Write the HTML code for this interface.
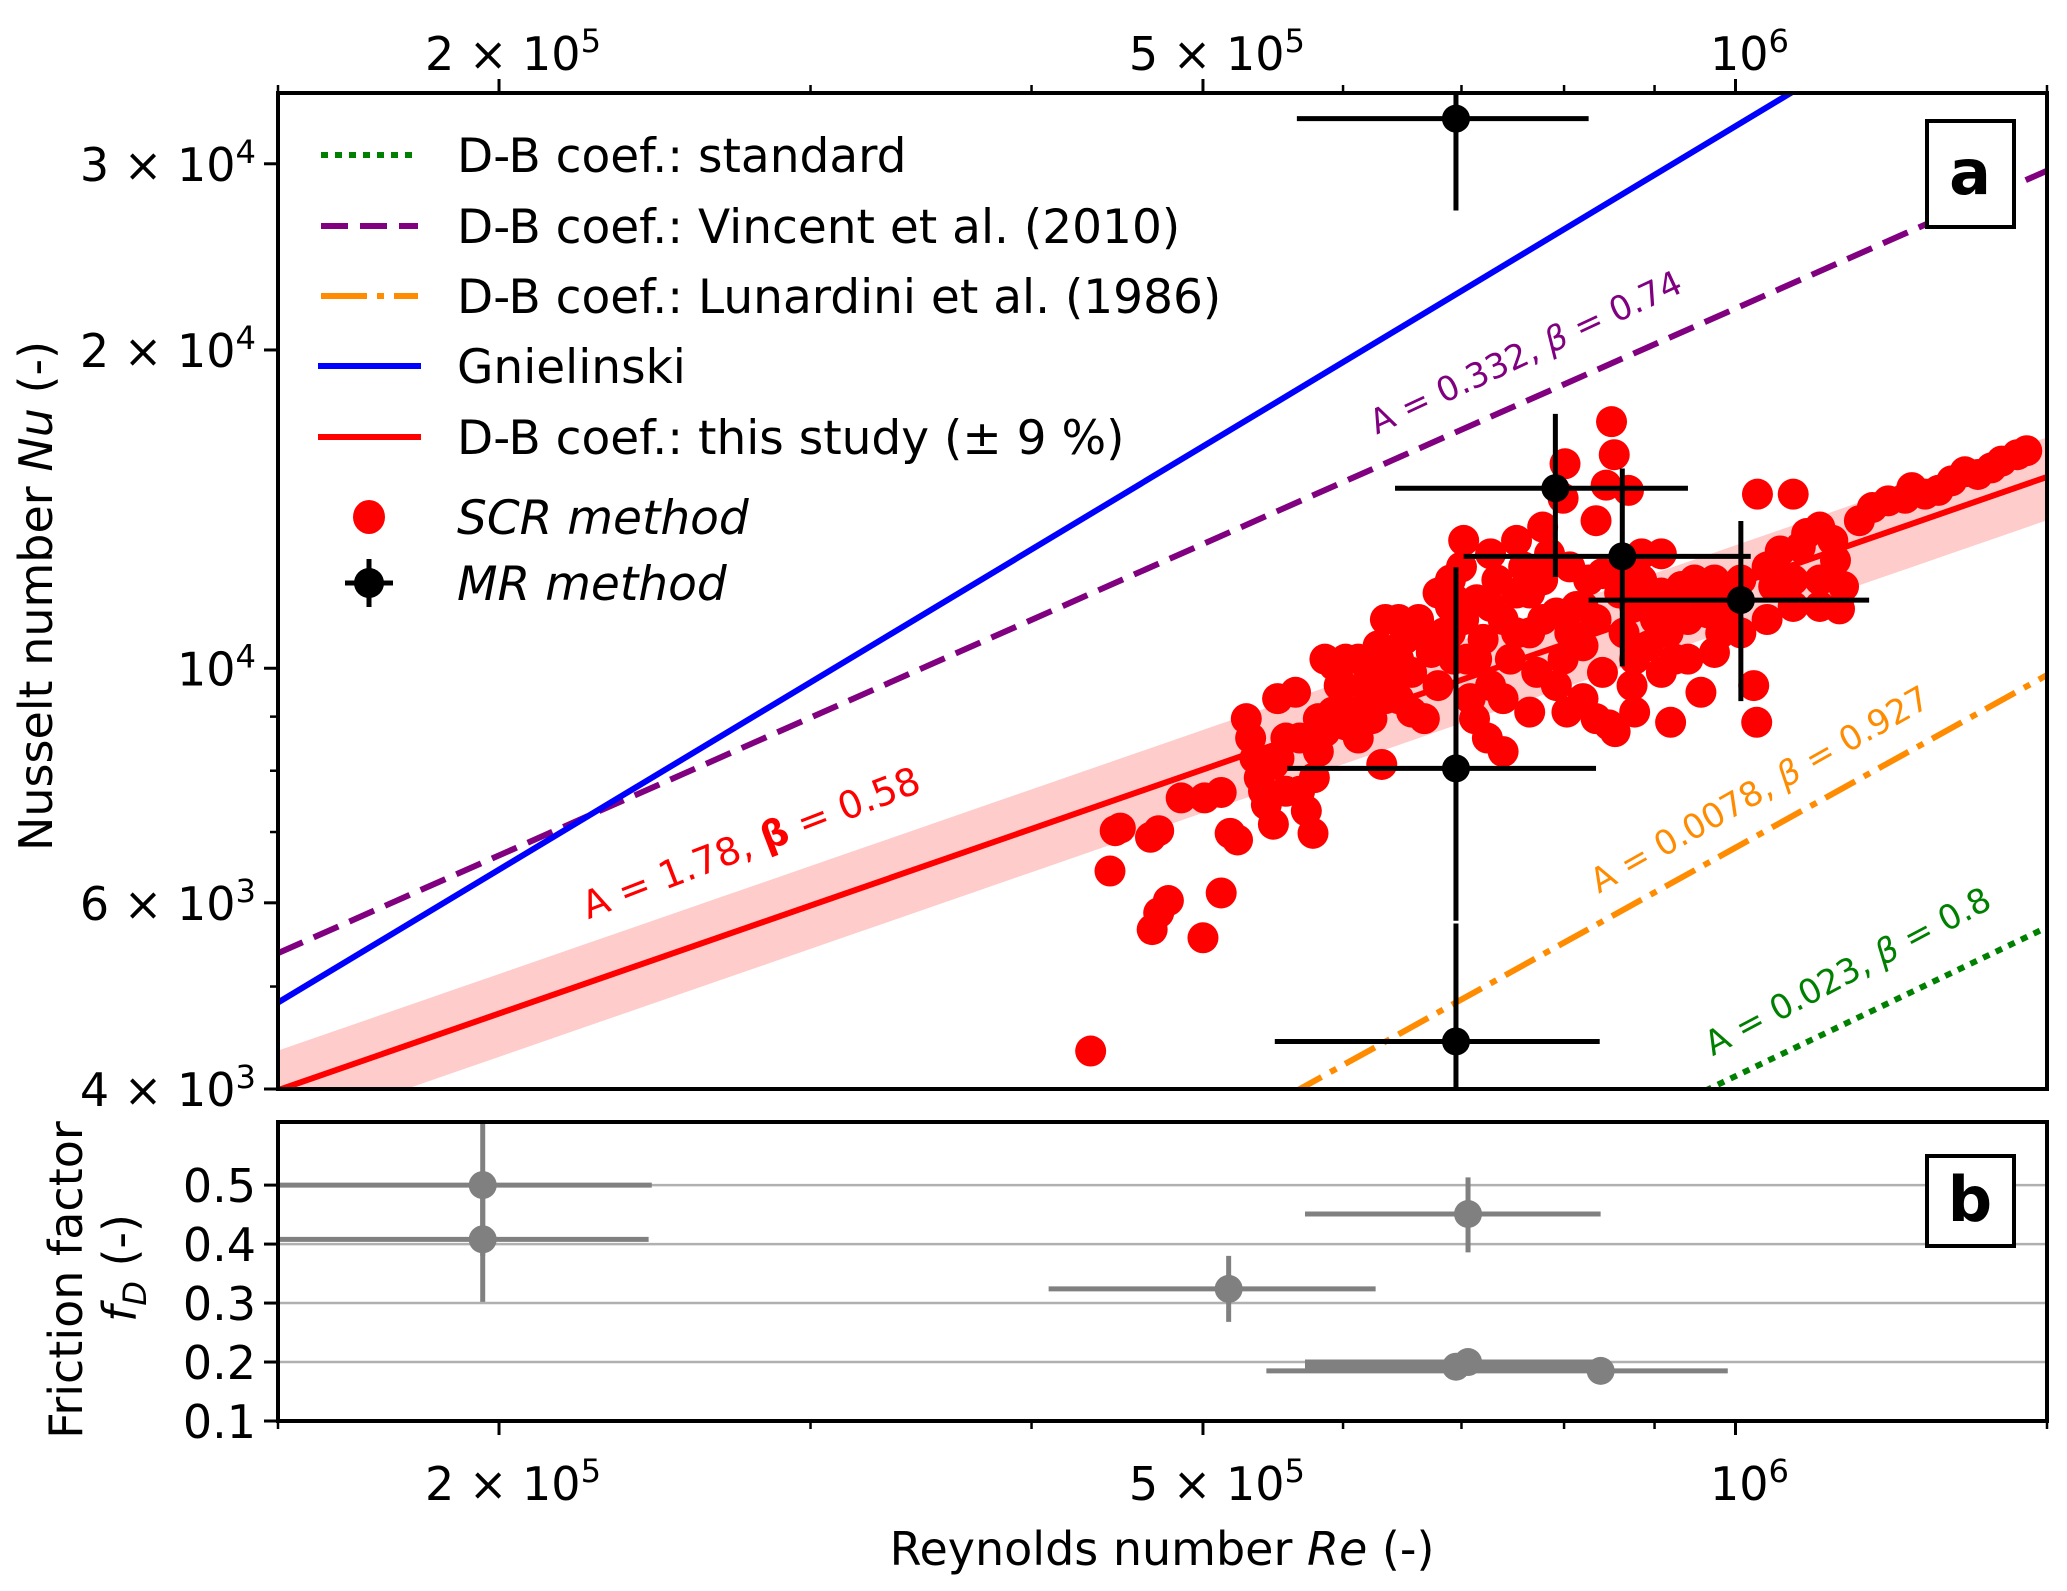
<!DOCTYPE html>
<html><head><meta charset="utf-8">
<style>
html,body{margin:0;padding:0;background:#fff;width:2067px;height:1591px;overflow:hidden;position:relative;}
svg{display:block;font-family:"DejaVu Sans","Liberation Sans",sans-serif;}
</style></head>
<body>
<svg id="fig" style="position:absolute;left:0;top:0" width="2067" height="1591" viewBox="0 0 2067 1591" xmlns="http://www.w3.org/2000/svg">
<defs>
<clipPath id="clipA"><rect x="278" y="93" width="1769" height="996"/></clipPath>
<clipPath id="clipB"><rect x="278" y="1122" width="1769" height="299"/></clipPath>
</defs>
<rect x="0" y="0" width="2067" height="1591" fill="#fff"/>
<g id="gA" clip-path="url(#clipA)"></g>
<g id="gB" clip-path="url(#clipB)"></g>
<g id="axes"></g>
<g id="legend"></g>
</svg>
<script>
// ---------- data ----------
const lineNames = ["D-B coef.: standard","D-B coef.: Vincent et al. (2010)","D-B coef.: Lunardini et al. (1986)","Gnielinski","D-B coef.: this study (\u00b1 9 %)"];
const lineBetas = [0.8, 0.74, 0.927, 1.006, 0.58];
const lineNuAt1e6 = [4113, 21890, 6766, 32560, 11990];
const lineColors = ["#008000","#800080","#ff8c00","#0000ff","#ff0000"];
const lineDash = ["7,7","27,12","34,10,7,10","",""];
const bandPct = 9;

// SCR method points: Re (x1e5), Nu
const scrRe = [4.32,4.43,4.46,4.49,4.68,4.72,4.78,5.00,5.12,4.67,4.72,4.86,5.01,5.12,5.18,5.23,5.29,5.32,5.35,5.38,5.43,5.48,5.41,5.52,5.57,5.64,5.51,5.67,5.72,5.77,5.78,5.81,5.86,5.92,5.93,6.02,6.00,6.07,6.12,6.17,6.23,6.28,6.31,6.34,6.39,6.45,6.50,6.56,6.62,6.67,6.73,6.79,6.84,6.90,7.00,7.02,7.05,7.08,7.14,7.20,7.27,7.33,7.39,7.46,7.52,7.59,7.65,7.72,7.78,7.85,7.92,7.99,8.03,8.06,8.13,8.20,8.26,8.34,8.41,8.48,8.55,8.60,8.65,8.74,8.77,8.85,8.93,9.01,9.08,9.16,9.24,9.32,9.40,9.48,9.56,9.65,9.73,9.81,9.90,10.24,10.28,9.19,8.51,8.54,8.45,8.01,7.99,8.34,8.70,10.29,10.78,10.07,10.42,10.60,10.88,10.97,11.16,11.35,11.39,11.51,11.45,11.16,10.78,10.51,11.75,11.95,12.20,12.47,12.58,12.80,13.02,13.25,13.48,13.71,13.95,14.14,14.43,14.61,6.94,6.90,6.93,7.12,7.24,7.39,6.45,5.86,5.97,6.23,8.41,8.85,
7.02,7.27,7.52,7.78,7.39,7.65,7.92,8.20,8.34,8.77,9.08,9.40,9.73,10.07,10.42,10.78,11.16,7.52,7.78,8.06,7.27,6.79,6.67,6.56,6.45,6.23,6.02,5.81,5.67,6.12,6.34,7.14,8.93,9.24,9.56,9.90,8.65,9.08,7.65,8.20,6.90,8.77,5.57,5.48];
const scrNu = [4345,6430,7020,7060,5660,5870,6030,5560,6130,6920,7020,7540,7540,7630,6980,6880,8960,8590,8220,7880,7430,7120,7650,8220,8590,9490,9360,7650,7330,6980,7880,8340,8710,9090,10060,10200,9630,9090,8590,9630,10060,10500,8110,9360,9770,10200,10650,9910,11120,8960,10350,9630,10800,11440,12470,11120,10200,9360,11610,10650,9630,12120,11120,10200,11780,12470,10800,9910,12120,12830,11280,10200,9090,12470,11440,10500,12120,11120,9910,8840,8710,11780,10800,9630,11440,12120,10500,11120,11780,10800,10200,11950,11120,12120,9490,11280,12120,10800,11780,9630,8890,8890,17110,15920,14900,15610,14480,13790,14730,14610,14610,12120,12470,12910,13020,13410,13600,13210,12650,11950,11380,12120,12120,11950,13790,14190,14400,14480,14820,14610,14730,15040,15340,15250,15470,15700,15920,16060,11610,12120,10200,8960,8590,8340,11120,10200,9630,8960,12290,12830,
13210,12830,13210,13600,9360,9090,9630,9360,8960,10200,9910,10200,10350,10800,11120,11440,11440,10800,11120,10800,11440,11780,10800,9090,9360,9490,8840,8960,8590,10200,11120,10200,11780,11440,11780,11120,12470,12830,11780,11440,10800,9090,7650,8110];

// MR method points (x1e5 for Re)
const mrRe   = [6.95, 7.91, 8.63, 10.07, 6.95, 6.95];
const mrReLo = [5.65, 6.42, 7.02, 8.26, 5.58, 5.49];
const mrReHi = [8.26, 9.40, 10.2, 11.9, 8.34, 8.38];
const mrNu   = [33100, 14800, 12760, 11600, 8040, 4436];
const mrNuLo = [27100, 12200, 10040, 9310, 5770, 3000];
const mrNuHi = [40000, 17400, 15450, 13780, 12460, 5735];

// Friction factor points
const ffRe   = [1.958, 1.958, 7.06, 5.17, 6.95, 7.06, 8.39];
const ffReLo = [1.40, 1.40, 5.71, 4.09, 5.71, 5.71, 5.43];
const ffReHi = [2.44, 2.43, 8.39, 6.26, 8.39, 8.39, 9.90];
const ffF    = [0.500, 0.408, 0.451, 0.324, 0.192, 0.200, 0.185];
const ffFLo  = [0.38, 0.302, 0.386, 0.268, 0.18, 0.19, 0.175];
const ffFHi  = [0.70, 0.514, 0.513, 0.38, 0.205, 0.21, 0.195];

const xTickVals = [2, 5, 10];
const xTickLabels = [["2 \u00d7 10","5"],["5 \u00d7 10","5"],["10","6"]];
const xMinorVals = [1.5,3,4,6,7,8,9,15];
const yTickVals = [4000, 6000, 10000, 20000, 30000];
const yTickLabels = [["4 \u00d7 10","3"],["6 \u00d7 10","3"],["10","4"],["2 \u00d7 10","4"],["3 \u00d7 10","4"]];
const yMinorVals = [5000,7000,8000,9000];
const fTickVals = [0.1,0.2,0.3,0.4,0.5];
const fTickLabels = ["0.1","0.2","0.3","0.4","0.5"];
const fGridVals = [0.2,0.3,0.4,0.5];

// ---------- axes functions ----------
const L=278, R=2047, AT=93, AB=1089, BT=1122, BB=1421;
const xMin=Math.log10(1.5e5), xMax=Math.log10(1.5e6);
const yMin=Math.log10(4000), yMax=Math.log10(35000);
const fMin=0.1, fMax=0.607;
function X(re){return L+(Math.log10(re)-xMin)/(xMax-xMin)*(R-L);}
function Y(nu){return AB-(Math.log10(nu)-yMin)/(yMax-yMin)*(AB-AT);}
function YF(f){return BB-(f-fMin)/(fMax-fMin)*(BB-BT);}

const NS="http://www.w3.org/2000/svg";
function mk(tag,attrs,parent){const e=document.createElementNS(NS,tag);for(const k in attrs)e.setAttribute(k,attrs[k]);parent.appendChild(e);return e;}
const gA=document.getElementById('gA'), gB=document.getElementById('gB'), axes=document.getElementById('axes');

// band
{
  const i=4, n=40; let pts=[], pts2=[];
  for(let k=0;k<=n;k++){const re=Math.pow(10,xMin+(xMax-xMin)*k/n);const nu=lineNuAt1e6[i]*Math.pow(re/1e6,lineBetas[i]);
    pts.push(X(re)+','+Y(nu*(1+bandPct/100)));pts2.unshift(X(re)+','+Y(nu*(1-bandPct/100)));}
  const b=mk('polygon',{points:pts.concat(pts2).join(' '),fill:'#ffcccc',stroke:'none'},gA);
  
  
}
// lines
const lineKeys=['standard-line','vincent-line','lunardini-line','gnielinski-line','this-study-line'];
for(let i=0;i<lineNames.length;i++){
  const r0=1.5e5, r1=1.5e6;
  const n0=lineNuAt1e6[i]*Math.pow(r0/1e6,lineBetas[i]), n1=lineNuAt1e6[i]*Math.pow(r1/1e6,lineBetas[i]);
  const a={x1:X(r0),y1:Y(n0),x2:X(r1),y2:Y(n1),stroke:lineColors[i],'stroke-width':6,fill:'none'};
  if(lineDash[i])a['stroke-dasharray']=lineDash[i];
  const ln=mk('line',a,gA);
  
  
}
// SCR points
for(let i=0;i<scrRe.length;i++){
  const c=mk('circle',{cx:X(scrRe[i]*1e5),cy:Y(scrNu[i]),r:15.5,fill:'#ff0000'},gA);
  
  
}
// MR error bars
for(let i=0;i<mrRe.length;i++){
  const g=mk('g',{},gA);
  
  
  const x=X(mrRe[i]*1e5), y=Y(mrNu[i]);
  mk('line',{x1:X(mrReLo[i]*1e5),x2:X(mrReHi[i]*1e5),y1:y,y2:y,stroke:'#000','stroke-width':5},g);
  mk('line',{x1:x,x2:x,y1:Y(mrNuLo[i]),y2:Y(mrNuHi[i]),stroke:'#000','stroke-width':5},g);
  mk('circle',{cx:x,cy:y,r:14,fill:'#000'},g);
}
// friction grid + points
for(const v of fGridVals){
  const gl=mk('line',{x1:L,x2:R,y1:YF(v),y2:YF(v),stroke:'#b0b0b0','stroke-width':2.5},gB);
  
  
}
for(let i=0;i<ffRe.length;i++){
  const g=mk('g',{},gB);
  
  
  const x=X(ffRe[i]*1e5), y=YF(ffF[i]);
  mk('line',{x1:X(ffReLo[i]*1e5),x2:X(ffReHi[i]*1e5),y1:y,y2:y,stroke:'#808080','stroke-width':5},g);
  mk('line',{x1:x,x2:x,y1:YF(ffFLo[i]),y2:YF(ffFHi[i]),stroke:'#808080','stroke-width':5},g);
  mk('circle',{cx:x,cy:y,r:14,fill:'#808080'},g);
}
// annotations
const ann=[
 {t:'A = 1.78, ',b:'\u03b2',t2:' = 0.58',x:751,y:843,a:-21,c:'#ff0000',fs:38,bold:true,n:'this-study-annotation'},
 {t:'A = 0.332, ',b:'\u03b2',t2:' = 0.74',x:1526,y:353,a:-25,c:'#800080',fs:34,n:'vincent-annotation'},
 {t:'A = 0.0078, ',b:'\u03b2',t2:' = 0.927',x:1760,y:790,a:-29.5,c:'#ff8c00',fs:34,n:'lunardini-annotation'},
 {t:'A = 0.023, ',b:'\u03b2',t2:' = 0.8',x:1848,y:972,a:-28,c:'#008000',fs:34,n:'standard-annotation'}];
for(const a of ann){
  const t=mk('text',{x:a.x,y:a.y,'text-anchor':'middle','dominant-baseline':'central','font-size':a.fs,fill:a.c,transform:`rotate(${a.a} ${a.x} ${a.y})`},gA);
  
  
  const s1=mk('tspan',{},t);s1.textContent=a.t;
  const s2=mk('tspan',{'font-style':a.bold?'normal':'italic','font-weight':a.bold?'bold':'normal'},t);s2.textContent=a.b;
  const s3=mk('tspan',{},t);s3.textContent=a.t2;
}
// spines
for(const [y0,y1,n] of [[AT,AB,'panel-a-frame'],[BT,BB,'panel-b-frame']]){
  const r=mk('rect',{x:L,y:y0,width:R-L,height:y1-y0,fill:'none',stroke:'#000','stroke-width':4},axes);
  
  
}
function supText(x,y,base,sup,anchor,fs,name){
  const t=mk('text',{x:x,y:y,'text-anchor':anchor,'font-size':fs,fill:'#000'},axes);
  
  
  const a=mk('tspan',{},t);a.textContent=base;
  const b=mk('tspan',{dy:-18,'font-size':fs*0.7},t);b.textContent=sup;
  return t;
}
for(let i=0;i<xTickVals.length;i++){
  const x=X(xTickVals[i]*1e5);
  mk('line',{x1:x,x2:x,y1:AT,y2:AT-14,stroke:'#000','stroke-width':3},axes);
  mk('line',{x1:x,x2:x,y1:BB,y2:BB+14,stroke:'#000','stroke-width':3},axes);
  supText(x+14,70,xTickLabels[i][0],xTickLabels[i][1],'middle',46,'top-x-tick-label');
  supText(x+14,1500,xTickLabels[i][0],xTickLabels[i][1],'middle',46,'bottom-x-tick-label');
}
for(const v of xMinorVals){
  const x=X(v*1e5);
  mk('line',{x1:x,x2:x,y1:AT,y2:AT-8,stroke:'#000','stroke-width':2.5},axes);
  mk('line',{x1:x,x2:x,y1:BB,y2:BB+8,stroke:'#000','stroke-width':2.5},axes);
}
for(let i=0;i<yTickVals.length;i++){
  const y=Y(yTickVals[i]);
  mk('line',{x1:L,x2:L-14,y1:y,y2:y,stroke:'#000','stroke-width':3},axes);
  supText(L-22,y+17,yTickLabels[i][0],yTickLabels[i][1],'end',46,'y-tick-label');
}
for(const v of yMinorVals){const y=Y(v);mk('line',{x1:L,x2:L-8,y1:y,y2:y,stroke:'#000','stroke-width':2.5},axes);}
for(let i=0;i<fTickVals.length;i++){
  const y=YF(fTickVals[i]);
  mk('line',{x1:L,x2:L-14,y1:y,y2:y,stroke:'#000','stroke-width':3},axes);
  const t=mk('text',{x:L-22,y:y+17,'text-anchor':'end','font-size':46,fill:'#000'},axes);
  
  
  t.textContent=fTickLabels[i];
}
</script>
<svg style="position:absolute;left:0;top:0" width="2067" height="1591">
<g font-family="DejaVu Sans, Liberation Sans, sans-serif" fill="#000">
<text x="1162" y="1565" font-size="46" text-anchor="middle">Reynolds number <tspan font-style="italic">Re</tspan> (-)</text>
<text transform="translate(52,596) rotate(-90)" font-size="46" text-anchor="middle">Nusselt number <tspan font-style="italic">Nu</tspan> (-)</text>
<text transform="translate(82,1280) rotate(-90)" font-size="46" text-anchor="middle">Friction factor</text>
<text transform="translate(136,1268) rotate(-90)" font-size="46" text-anchor="middle"><tspan font-style="italic">f</tspan><tspan font-style="italic" font-size="32" dy="10">D</tspan><tspan dy="-10"> (-)</tspan></text>
<rect x="1927" y="121" width="87" height="106" fill="#fff" stroke="#000" stroke-width="4"/>
<text x="1970" y="194" font-size="62" font-weight="bold" text-anchor="middle">a</text>
<rect x="1927" y="1156" width="87" height="90" fill="#fff" stroke="#000" stroke-width="4"/>
<text x="1970" y="1221" font-size="62" font-weight="bold" text-anchor="middle">b</text>
<g><line x1="321" x2="418" y1="155" y2="155" stroke="#008000" stroke-width="6" stroke-dasharray="7,7"/><text x="457" y="172" font-size="47">D-B coef.: standard</text></g>
<g><line x1="321" x2="418" y1="226" y2="226" stroke="#800080" stroke-width="6" stroke-dasharray="27,12"/><text x="457" y="243" font-size="47">D-B coef.: Vincent et al. (2010)</text></g>
<g><line x1="321" x2="418" y1="296" y2="296" stroke="#ff8c00" stroke-width="6" stroke-dasharray="46,10,7,10"/><text x="457" y="313" font-size="47">D-B coef.: Lunardini et al. (1986)</text></g>
<g><line x1="318" x2="421" y1="366" y2="366" stroke="#0000ff" stroke-width="6"/><text x="457" y="383" font-size="47">Gnielinski</text></g>
<g><line x1="318" x2="421" y1="437" y2="437" stroke="#ff0000" stroke-width="6"/><text x="457" y="454" font-size="47">D-B coef.: this study (± 9 %)</text></g>
<g><ellipse cx="369" cy="517" rx="16" ry="17" fill="#ff0000"/><text x="457" y="534" font-size="47" font-style="italic">SCR method</text></g>
<g><line x1="345" x2="393" y1="583" y2="583" stroke="#000" stroke-width="5"/><line x1="369" x2="369" y1="559" y2="607" stroke="#000" stroke-width="5"/><circle cx="369" cy="583" r="15" fill="#000"/><text x="457" y="600" font-size="47" font-style="italic">MR method</text></g>
</g>
</svg>
</body></html>
